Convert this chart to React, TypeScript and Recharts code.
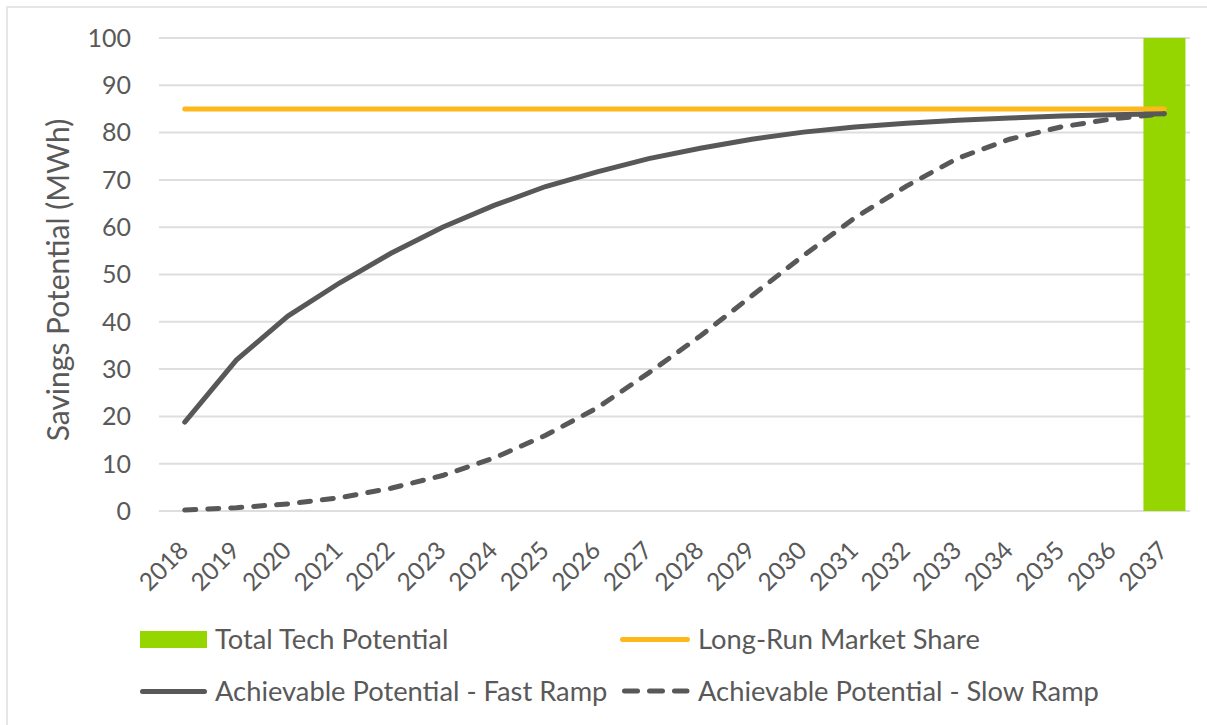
import React from 'react';
import { ComposedChart, Bar, Line, XAxis, YAxis, CartesianGrid } from 'recharts';

const years = ['2018','2019','2020','2021','2022','2023','2024','2025','2026','2027','2028','2029','2030','2031','2032','2033','2034','2035','2036','2037'];
const totalTech = [null,null,null,null,null,null,null,null,null,null,null,null,null,null,null,null,null,null,null,100];
const longRun = [85,85,85,85,85,85,85,85,85,85,85,85,85,85,85,85,85,85,85,85];
const fastRamp = [18.8,31.9,41.2,48.2,54.5,60,64.6,68.6,71.7,74.5,76.7,78.6,80.1,81.2,82,82.6,83.1,83.5,83.8,84];
const slowRamp = [0.2,0.7,1.5,2.8,4.8,7.5,11.2,16,21.8,29.2,37,45.5,54,62,68.7,74.6,78.6,81.2,82.9,84];
const yTicks = [0,10,20,30,40,50,60,70,80,90,100];

const data = years.map((y, i) => ({
  year: y,
  total: totalTech[i],
  longRun: longRun[i],
  fast: fastRamp[i],
  slow: slowRamp[i],
}));

const FONT = 'Lato, "Open Sans", sans-serif';
const TEXT = '#595959';
const GREEN = '#95D600';
const ORANGE = '#FFB81C';
const DARK = '#58585A';

const XTick = (props: any) => {
  const { x, y, payload } = props;
  return (
    <g transform={`translate(${x + 5},${y + 41})`}>
      <text transform="rotate(-45)" textAnchor="end" fill={TEXT} fontSize={24.5} fontFamily={FONT}>
        {payload.value}
      </text>
    </g>
  );
};

const YLabel = () => {
  const cx = 69;
  const cy = 280;
  return (
    <text x={cx} y={cy} transform={`rotate(-90 ${cx} ${cy})`} textAnchor="middle" fill={TEXT} fontSize={30} fontFamily={FONT}>
      Savings Potential (MWh)
    </text>
  );
};

const legendText: React.CSSProperties = {
  position: 'absolute',
  fontFamily: FONT,
  fontSize: 27.3,
  color: TEXT,
  lineHeight: '28px',
  whiteSpace: 'nowrap',
};

export default function App() {
  return (
    <div style={{ position: 'relative', width: 1207, height: 725, overflow: 'hidden', background: '#fff' }}>
      <style>{`body{margin:0}`}</style>
      <div style={{ position: 'absolute', left: 6, top: 6, width: 1240, height: 760, border: '2px solid #e6e6e6', boxSizing: 'border-box' }} />
      <div style={{ position: 'absolute', left: 0, top: 0 }}>
        <ComposedChart width={1207} height={725} data={data} margin={{ top: 38, right: 17, bottom: 0, left: 0 }}>
          <CartesianGrid vertical={false} stroke="#dedede" strokeWidth={2} />
          <XAxis dataKey="year" axisLine={false} tickLine={false} tickSize={0} tickMargin={0} height={214} interval={0} tick={<XTick />} />
          <YAxis
            domain={[0, 100]}
            ticks={yTicks}
            width={159}
            axisLine={false}
            tickLine={false}
            tickSize={0}
            tickMargin={28}
            tick={{ fill: TEXT, fontSize: 25, fontFamily: FONT }}
            label={<YLabel />}
          />
          <Bar dataKey="total" fill={GREEN} barSize={42} isAnimationActive={false} />
          <Line dataKey="longRun" stroke={ORANGE} strokeWidth={5} dot={false} strokeLinecap="round" isAnimationActive={false} />
          <Line dataKey="slow" stroke={DARK} strokeWidth={5} dot={false} strokeDasharray="11 12" strokeLinecap="round" isAnimationActive={false} />
          <Line dataKey="fast" stroke={DARK} strokeWidth={5} dot={false} strokeLinecap="round" isAnimationActive={false} />
        </ComposedChart>
      </div>
      {/* Legend */}
      <div style={{ position: 'absolute', left: 140, top: 631, width: 67, height: 17, background: GREEN }} />
      <div style={{ ...legendText, left: 215, top: 625 }}>Total Tech Potential</div>
      <div style={{ position: 'absolute', left: 620, top: 636.5, width: 70, height: 5, borderRadius: 3, background: ORANGE }} />
      <div style={{ ...legendText, left: 698, top: 625 }}>Long-Run Market Share</div>
      <div style={{ position: 'absolute', left: 140, top: 688.5, width: 67, height: 5, borderRadius: 3, background: DARK }} />
      <div style={{ ...legendText, left: 215, top: 677 }}>Achievable Potential - Fast Ramp</div>
      <svg style={{ position: 'absolute', left: 620, top: 683 }} width={72} height={16}>
        <line x1={4.5} y1={8} x2={67} y2={8} stroke={DARK} strokeWidth={5} strokeLinecap="round" strokeDasharray="13 12" />
      </svg>
      <div style={{ ...legendText, left: 698, top: 677 }}>Achievable Potential - Slow Ramp</div>
    </div>
  );
}
